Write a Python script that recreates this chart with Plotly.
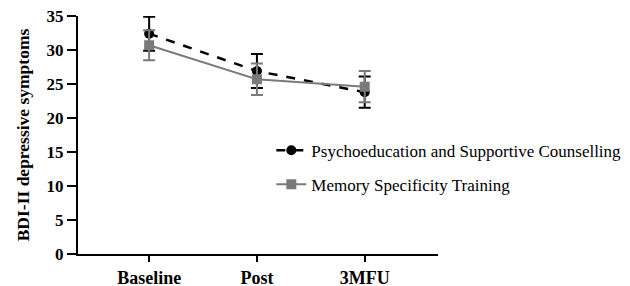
import plotly.graph_objects as go

categories = ["Baseline", "Post", "3MFU"]
psycho_mean = [32.4, 26.9, 23.8]
psycho_err = [2.5, 2.5, 2.3]
mst_mean = [30.7, 25.7, 24.6]
mst_err = [2.2, 2.3, 2.3]
y_ticks = [0, 5, 10, 15, 20, 25, 30, 35]

font_family = "Liberation Serif"

fig = go.Figure()
fig.add_trace(go.Scatter(
    x=[0, 1, 2], y=psycho_mean,
    error_y=dict(type="data", array=psycho_err, color="black", thickness=2, width=6),
    mode="lines+markers",
    line=dict(color="black", width=2.5, dash="dash"),
    marker=dict(symbol="circle", size=10, color="black"),
    name="Psychoeducation and Supportive Counselling",
    legendgroup="a",
))
fig.add_trace(go.Scatter(
    x=[0, 1, 2], y=mst_mean,
    error_y=dict(type="data", array=mst_err, color="#7a7a7a", thickness=2, width=6),
    mode="lines+markers",
    line=dict(color="#7a7a7a", width=2),
    marker=dict(symbol="square", size=10, color="#7a7a7a"),
    name="Memory Specificity Training",
    legendgroup="b",
))

# page body has an 8px default margin, so the figure is offset by 8px
fig.update_layout(
    width=630, height=286,
    margin=dict(l=70, r=200, t=8, b=40, autoexpand=False),
    plot_bgcolor="white", paper_bgcolor="white",
    font=dict(family=font_family, color="black"),
    showlegend=True,
    legend=dict(
        x=0.537, y=0.51, xanchor="left", yanchor="top",
        font=dict(family=font_family, size=17, color="black"),
        tracegroupgap=9, traceorder="grouped",
        bgcolor="rgba(0,0,0,0)",
    ),
    xaxis=dict(
        range=[-0.66, 2.68], automargin=False,
        tickmode="array", tickvals=[0, 1, 2],
        ticktext=["<b>%s</b>" % c for c in categories],
        ticks="outside", ticklen=6, tickwidth=2, tickcolor="black",
        showline=True, linecolor="black", linewidth=2,
        showgrid=False, zeroline=False,
        tickfont=dict(family=font_family, size=18, color="black"),
        ticklabeloverflow="allow",
    ),
    yaxis=dict(
        range=[0, 35], automargin=False,
        tickmode="array", tickvals=y_ticks,
        ticktext=["<b>%d</b>" % v for v in y_ticks],
        ticks="outside", ticklen=9, tickwidth=2, tickcolor="black",
        showline=True, linecolor="black", linewidth=2,
        showgrid=False, zeroline=False,
        tickfont=dict(family=font_family, size=17, color="black"),
        ticklabeloverflow="allow",
        title=dict(text="<b>BDI-II depressive symptoms</b>", standoff=12,
                   font=dict(family=font_family, size=17.5, color="black")),
    ),
)

fig.write_html("out.html")
